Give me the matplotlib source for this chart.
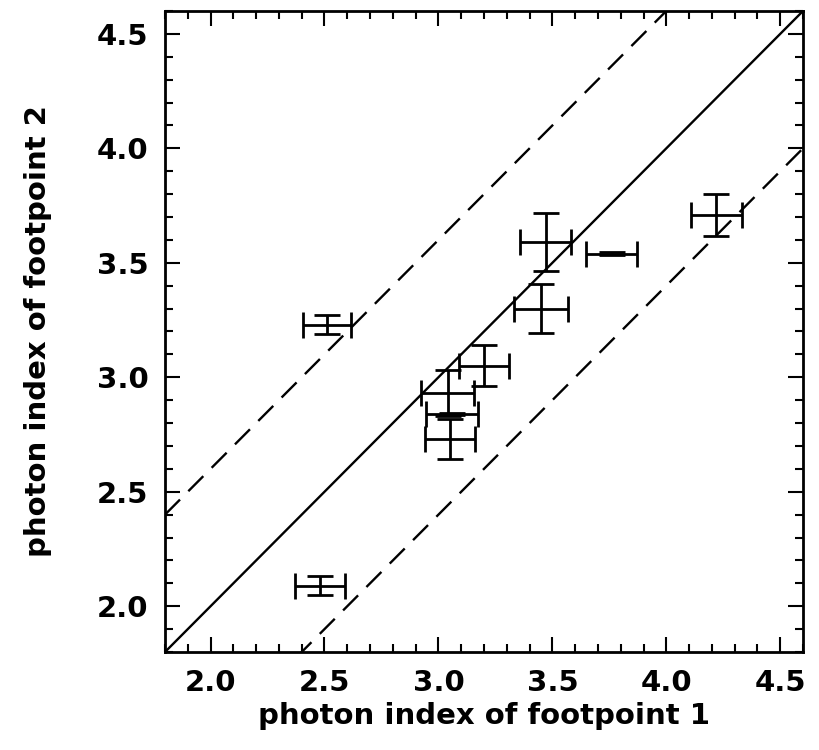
import matplotlib
matplotlib.use("Agg")
from matplotlib import pyplot as plt
from matplotlib.ticker import MultipleLocator
import numpy as np

# photon indices of the two footpoints, with errors
fp1 = [2.51, 2.48, 3.04, 3.06, 3.05, 3.20, 3.45, 3.47, 3.76, 4.22]
fp2 = [3.23, 2.09, 2.93, 2.84, 2.73, 3.05, 3.30, 3.59, 3.54, 3.71]
fp1_err = [0.105, 0.11, 0.115, 0.115, 0.11, 0.11, 0.12, 0.11, 0.113, 0.113]
fp2_err = [0.04, 0.04, 0.10, 0.006, 0.087, 0.09, 0.107, 0.126, 0.006, 0.092]

# reference lines: equal index and +/- offset
line_x = [1.8, 4.6]
offset = 0.6

fig = plt.figure(figsize=(8.19, 7.5), dpi=100)
ax = fig.add_axes([165/819, 1 - 652/750, 638/819, 641/750])

ax.plot(line_x, line_x, color='black', lw=1.7)
ax.plot(line_x, [v + offset for v in line_x], color='black', lw=1.7, dashes=(9, 5))
ax.plot(line_x, [v - offset for v in line_x], color='black', lw=1.7, dashes=(9, 5))

ax.errorbar(fp1, fp2, xerr=fp1_err, yerr=fp2_err, fmt='none', ecolor='black',
            elinewidth=2.0, capsize=9.5, capthick=2.0)

ax.set_xlim(1.8, 4.6)
ax.set_ylim(1.8, 4.6)
ax.xaxis.set_major_locator(MultipleLocator(0.5))
ax.xaxis.set_minor_locator(MultipleLocator(0.1))
ax.yaxis.set_major_locator(MultipleLocator(0.5))
ax.yaxis.set_minor_locator(MultipleLocator(0.1))
ax.xaxis.set_major_formatter(plt.FormatStrFormatter('%.1f'))
ax.yaxis.set_major_formatter(plt.FormatStrFormatter('%.1f'))
ax.tick_params(which='both', direction='in', top=True, right=True, width=1.5)
ax.tick_params(which='major', length=11, labelsize=21, pad=12)
ax.tick_params(which='minor', length=6)
for lab in ax.get_xticklabels() + ax.get_yticklabels():
    lab.set_fontweight('bold')
for s in ax.spines.values():
    s.set_linewidth(2)

ax.set_xlabel('photon index of footpoint 1', fontsize=21, fontweight='bold', labelpad=4)
ax.set_ylabel('photon index of footpoint 2', fontsize=21, fontweight='bold', labelpad=32)

plt.savefig('out.png', dpi=100)
